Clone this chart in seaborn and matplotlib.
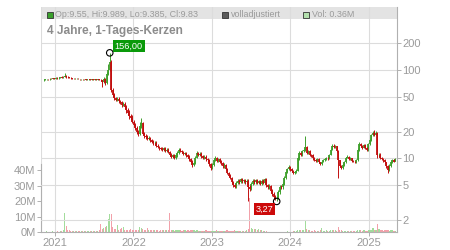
import numpy as np
import pandas as pd
import matplotlib
matplotlib.use("Agg")
import matplotlib.pyplot as plt
import matplotlib.dates as mdates
from matplotlib.patches import Rectangle
import seaborn as sns

# ---------------- data (weekly candles) ----------------
week_start = "2020-11-09"
opens = [76.5, 77, 78, 79, 78, 80, 79, 81, 80, 82,
         81, 82, 83, 82, 84, 86, 84, 83, 82, 81,
         80, 80, 79, 80, 79, 78, 79, 78, 78, 77,
         78, 78, 77, 78, 77, 78, 77, 78, 77, 76,
         74, 80, 72, 90, 100, 122, 60, 52, 48, 46,
         47, 44, 43, 40, 41, 38, 35, 33, 30, 29,
         26, 24, 22, 20, 19, 23, 25, 19, 18, 17.5,
         16.5, 17, 16, 15.5, 14.8, 15, 14, 13.5, 13, 12.8,
         12.5, 13, 12.2, 12.6, 11.8, 11, 10.5, 10.8, 10.2, 10.8,
         11.5, 12.5, 12.2, 11.8, 11.2, 11.4, 10.8, 10.5, 9.8, 9.2,
         8.5, 8.8, 10.2, 11.5, 11, 11.3, 10.6, 10.2, 10.5, 9.8,
         9.5, 8.6, 7.8, 8.5, 9.6, 10.2, 9.4, 9.8, 9.2, 8.8,
         8.2, 8.5, 7.6, 6.8, 6.4, 6.0, 5.4, 5.0, 4.8, 5.3,
         5.6, 5.4, 5.8, 5.5, 5.7, 5.4, 5.6, 4.8, 4.5, 5.2,
         5.6, 5.4, 5.7, 5.3, 5.5, 5.2, 5.6, 5.3, 5.8, 5.0,
         4.7, 4.9, 4.3, 4.0, 3.7, 3.5, 3.6, 4.2, 4.8, 4.7,
         5.2, 6.0, 7.0, 7.6, 8.0, 7.5, 7.2, 6.8, 7.0, 7.3,
         10.0, 11.5, 11.0, 12.0, 12.5, 13.5, 11.5, 12.0, 11.0, 10.8,
         10.0, 9.6, 9.4, 9.8, 9.0, 8.7, 9.2, 9.5, 9.8, 10.2,
         10.0, 11.0, 12.5, 14.0, 13.5, 13.8, 12.0, 9.5, 8.2, 7.8,
         8.5, 9.0, 10.2, 10.4, 9.8, 10.0, 9.4, 9.2, 9.0, 9.6,
         12.5, 14.5, 14.0, 13.2, 14.2, 13.0, 12.5, 14.5, 16.0, 18.5,
         19.5, 18.5, 19.5, 10.8, 11.0, 10.2, 9.8, 9.5, 9.0, 8.2,
         7.4, 8.3, 9.0, 9.5, 9.2]
closes = [77, 78, 79, 78, 80, 79, 81, 80, 82, 81,
          82, 83, 82, 84, 86, 84, 83, 82, 81, 80,
          80, 79, 80, 79, 78, 79, 78, 78, 77, 78,
          78, 77, 78, 77, 78, 77, 78, 77, 76, 74,
          80, 72, 90, 100, 122, 60, 52, 48, 46, 47,
          44, 43, 40, 41, 38, 35, 33, 30, 29, 26,
          24, 22, 20, 19, 23, 25, 19, 18, 17.5, 16.5,
          17, 16, 15.5, 14.8, 15, 14, 13.5, 13, 12.8, 12.5,
          13, 12.2, 12.6, 11.8, 11, 10.5, 10.8, 10.2, 10.8, 11.5,
          12.5, 12.2, 11.8, 11.2, 11.4, 10.8, 10.5, 9.8, 9.2, 8.5,
          8.8, 10.2, 11.5, 11, 11.3, 10.6, 10.2, 10.5, 9.8, 9.5,
          8.6, 7.8, 8.5, 9.6, 10.2, 9.4, 9.8, 9.2, 8.8, 8.2,
          8.5, 7.6, 6.8, 6.4, 6.0, 5.4, 5.0, 4.8, 5.3, 5.6,
          5.4, 5.8, 5.5, 5.7, 5.4, 5.6, 4.8, 4.5, 5.2, 5.6,
          5.4, 5.7, 5.3, 5.5, 5.2, 5.6, 5.3, 5.8, 5.0, 4.7,
          4.9, 4.3, 4.0, 3.7, 3.5, 3.6, 4.2, 4.8, 4.7, 5.2,
          6.0, 7.0, 7.6, 8.0, 7.5, 7.2, 6.8, 7.0, 7.3, 10.0,
          11.5, 11.0, 12.0, 12.5, 13.5, 11.5, 12.0, 11.0, 10.8, 10.0,
          9.6, 9.4, 9.8, 9.0, 8.7, 9.2, 9.5, 9.8, 10.2, 10.0,
          11.0, 12.5, 14.0, 13.5, 13.8, 12.0, 9.5, 8.2, 7.8, 8.5,
          9.0, 10.2, 10.4, 9.8, 10.0, 9.4, 9.2, 9.0, 9.6, 12.5,
          14.5, 14.0, 13.2, 14.2, 13.0, 12.5, 14.5, 16.0, 18.5, 19.5,
          18.5, 19.5, 10.8, 11.0, 10.2, 9.8, 9.5, 9.0, 8.2, 7.4,
          8.3, 9.0, 9.5, 9.2, 9.83]
highs = [78, 79, 80, 80, 81, 81, 82, 82, 83, 83,
         83, 84, 85, 86, 92, 88, 86, 84, 83, 82,
         81, 81, 81, 81, 80, 80, 80, 79, 79, 79,
         79, 79, 79, 79, 79, 79, 79, 79, 78, 77,
         84, 82, 95, 118, 156, 128, 62, 55, 50, 49,
         49, 46, 45, 43, 43, 40, 37, 35, 32, 31,
         27, 25, 23, 21, 26, 29, 26, 20, 19, 18.5,
         17.8, 17.5, 16.5, 16, 15.6, 15.6, 14.6, 14, 13.6, 13.3,
         13.6, 13.5, 13.1, 13, 12.2, 11.4, 11.3, 11.2, 11.2, 12,
         13.2, 13.0, 12.6, 12.2, 11.9, 11.8, 11.2, 10.9, 10.2, 9.5,
         9.2, 10.6, 12.2, 11.9, 11.8, 11.7, 11.0, 10.9, 10.8, 10.1,
         9.8, 8.9, 8.8, 9.9, 10.6, 10.5, 10.1, 10.0, 9.5, 9.0,
         8.9, 8.7, 7.8, 7.0, 6.6, 6.2, 5.6, 5.2, 5.5, 5.9,
         5.8, 6.0, 6.0, 5.9, 5.9, 5.8, 5.8, 5.0, 5.4, 5.9,
         5.8, 5.9, 5.9, 5.7, 5.7, 5.8, 5.8, 6.0, 6.0, 5.2,
         5.1, 5.0, 4.5, 4.2, 3.9, 3.8, 4.4, 5.0, 5.0, 5.4,
         6.3, 7.3, 7.9, 8.4, 8.2, 7.8, 7.4, 7.2, 7.6, 10.5,
         12.0, 11.9, 12.4, 13.0, 18.0, 13.8, 12.4, 12.3, 11.3, 11.1,
         10.3, 9.9, 10.1, 10.0, 9.2, 9.4, 9.8, 10.1, 10.5, 10.5,
         11.3, 12.8, 14.6, 14.5, 14.3, 14.0, 12.3, 9.7, 8.5, 8.8,
         9.3, 10.5, 10.8, 10.6, 10.3, 10.2, 9.6, 9.4, 9.9, 13.0,
         15.2, 14.9, 14.3, 14.6, 14.5, 13.4, 14.8, 16.5, 19.0, 20.2,
         21.0, 20.3, 19.8, 11.6, 11.4, 10.5, 10.1, 9.8, 9.2, 8.4,
         8.6, 9.3, 9.9, 9.8, 9.989]
lows = [75.5, 76, 77, 77, 77, 78, 78, 79, 79, 80,
        80, 81, 81, 81, 83, 82, 82, 81, 80, 79,
        79, 78, 78, 78, 77, 77, 77, 77, 76, 76,
        77, 76, 76, 76, 76, 76, 76, 76, 75, 64,
        72, 68, 70, 88, 98, 56, 50, 46, 44, 45,
        42, 41, 38, 39, 36, 33, 31, 28, 27, 25,
        23, 21, 19, 18, 18.5, 22, 18.5, 17, 16.8, 16,
        16, 15.5, 15, 14.3, 14.3, 13.6, 13, 12.6, 12.3, 12,
        12.1, 11.8, 11.8, 11.4, 10.6, 10.1, 10.2, 9.8, 9.9, 10.5,
        11.2, 11.8, 11.4, 10.8, 10.9, 10.4, 10.1, 9.4, 8.8, 8.0,
        8.2, 8.6, 10.0, 10.6, 10.7, 10.2, 9.8, 9.9, 9.4, 9.1,
        8.3, 7.4, 7.6, 8.3, 9.3, 9.1, 9.1, 8.9, 8.5, 7.9,
        7.9, 7.4, 6.6, 6.2, 5.8, 5.2, 4.8, 4.6, 4.6, 5.1,
        5.2, 5.3, 5.3, 5.3, 5.2, 5.2, 3.3, 4.3, 4.4, 5.0,
        5.2, 5.2, 5.1, 5.1, 5.0, 5.0, 5.1, 5.1, 4.8, 4.5,
        4.5, 4.1, 3.8, 3.5, 3.35, 3.27, 3.5, 4.0, 4.5, 4.5,
        5.0, 5.8, 6.8, 7.4, 7.3, 7.0, 6.6, 6.6, 6.8, 7.2,
        9.6, 10.6, 10.7, 11.7, 12.2, 11.2, 11.2, 10.7, 10.4, 9.7,
        9.3, 9.1, 9.2, 8.8, 8.4, 8.5, 9.0, 9.3, 9.6, 9.7,
        9.8, 10.8, 12.3, 13.1, 13.2, 11.7, 6.0, 8.0, 7.5, 7.6,
        8.3, 8.8, 10.0, 9.6, 9.6, 9.2, 9.0, 8.8, 8.8, 9.4,
        12.2, 13.6, 12.9, 13.0, 12.7, 12.1, 12.2, 14.2, 15.7, 18.1,
        18.0, 18.2, 10.0, 10.4, 9.9, 9.5, 9.2, 8.7, 7.9, 6.8,
        7.2, 8.0, 8.8, 9.0, 9.385]
volumes_m = [0.3, 0.2, 0.4, 0.3, 0.2, 0.3, 0.5, 0.3, 0.2, 0.4,
             0.3, 0.4, 0.6, 1.0, 12.5, 4.0, 1.5, 1.2, 0.9, 0.8,
             0.7, 0.8, 0.6, 0.7, 0.9, 0.6, 0.5, 0.7, 0.6, 0.5,
             0.4, 0.5, 0.6, 0.5, 0.4, 0.6, 0.8, 1.0, 5.0, 1.8,
             2.5, 3.0, 4.0, 8.5, 11.5, 12.0, 3.0, 2.2, 1.8, 4.5,
             1.5, 1.8, 2.5, 3.0, 1.4, 1.6, 1.5, 1.2, 1.8, 1.3,
             1.5, 1.2, 1.6, 1.4, 3.5, 2.8, 1.8, 1.2, 1.4, 2.5,
             1.3, 1.2, 1.0, 1.5, 1.1, 1.0, 1.2, 0.9, 1.4, 1.0,
             1.1, 1.3, 1.0, 1.2, 12.5, 1.5, 1.0, 0.9, 1.3, 1.1,
             1.2, 1.0, 0.9, 1.1, 1.0, 0.8, 1.2, 0.9, 1.0, 1.3,
             1.0, 0.9, 1.1, 0.8, 0.7, 0.9, 0.8, 0.7, 1.0, 0.8,
             0.9, 0.8, 0.7, 0.9, 0.8, 1.0, 0.7, 0.8, 0.9, 0.7,
             0.8, 0.9, 1.0, 0.8, 0.9, 0.7, 0.8, 1.0, 0.9, 0.8,
             0.7, 0.8, 0.9, 0.7, 0.8, 1.0, 2.0, 22.0, 2.5, 2.0,
             1.8, 2.2, 1.5, 1.8, 1.2, 1.0, 0.8, 0.5, 0.4, 0.3,
             0.3, 0.2, 0.3, 0.2, 0.3, 0.2, 0.3, 0.2, 0.3, 0.2,
             0.3, 0.2, 0.4, 0.3, 0.2, 0.3, 0.4, 0.5, 0.8, 1.0,
             1.2, 1.0, 1.5, 1.2, 7.5, 1.8, 1.2, 1.0, 0.9, 0.8,
             1.0, 0.8, 0.9, 0.7, 1.0, 2.5, 0.8, 0.9, 1.0, 0.8,
             0.9, 1.0, 1.2, 1.0, 1.1, 0.9, 3.5, 1.5, 1.0, 0.8,
             0.9, 0.7, 0.8, 0.9, 0.7, 0.8, 0.6, 0.8, 0.9, 1.5,
             1.2, 1.0, 0.9, 1.1, 0.8, 0.9, 1.0, 1.2, 1.5, 2.5,
             1.5, 1.2, 5.0, 1.8, 1.2, 1.0, 0.9, 1.1, 1.3, 1.0,
             0.9, 1.2, 1.0, 0.8, 0.36]

price_ticks = [2, 5, 10, 20, 50, 100, 200]
price_tick_labels = ["2", "5", "10", "20", "50", "100", "200"]
vol_ticks_m = [0, 10, 20, 30, 40]
vol_tick_labels = ["0M", "10M", "20M", "30M", "40M"]
year_ticks = ["2021-01-01", "2022-01-01", "2023-01-01", "2024-01-01", "2025-01-01"]
year_labels = ["2021", "2022", "2023", "2024", "2025"]
max_label, min_label = "156,00", "3,27"
title = "4 Jahre, 1-Tages-Kerzen"
legend_ohlc = "Op:9.55, Hi:9.989, Lo:9.385, Cl:9.83"
legend_adj = "volladjustiert"
legend_vol = "Vol: 0.36M"

# ---------------- style ----------------
sns.set_style("white")
plt.rcParams["font.family"] = ["Liberation Sans", "DejaVu Sans"]

UP, DOWN = "#3fa02c", "#c20f0f"
VUP, VDOWN = "#a3dc9c", "#f2a1aa"
GRID = "#dcdcdc"
TXT = "#9a9a9a"

df = pd.DataFrame({
    "date": pd.date_range(week_start, periods=len(closes), freq="7D"),
    "open": opens, "high": highs, "low": lows, "close": closes,
    "vol": np.array(volumes_m) * 1e6,
})
df["x"] = mdates.date2num(df["date"])
df["up"] = df["close"] >= df["open"]

W, H = 450, 250
fig = plt.figure(figsize=(W / 100, H / 100), dpi=100)
L, R, T, B = 41, 397, 7, 232
ax = fig.add_axes([L / W, 1 - B / H, (R - L) / W, (B - T) / H])
ax2 = ax.twinx()

# volume
ax.bar(df["x"], df["vol"], width=5.5, color=np.where(df["up"], VUP, VDOWN),
       linewidth=0, zorder=2)
ax.set_ylim(0, 146e6)
ax.set_yticks([v * 1e6 for v in vol_ticks_m])
ax.set_yticklabels(vol_tick_labels)

x0 = mdates.date2num(pd.Timestamp("2020-10-28"))
x1 = mdates.date2num(pd.Timestamp("2025-05-12"))
ax.set_xlim(x0, x1)
ax.set_xticks(mdates.date2num(pd.to_datetime(year_ticks)))
ax.set_xticklabels(year_labels)
ax.set_axisbelow(True)
ax.grid(axis="x", color=GRID, lw=0.8)
ax.grid(axis="y", visible=False)

# header band
ax.add_patch(Rectangle((0, 1 - 12 / 225), 1, 12 / 225, transform=ax.transAxes,
                       fc="#e3e3e3", ec="none", zorder=0.1))

# price candles
ax2.set_yscale("log")
lo_lim = 10 ** (np.log10(200) - (B - 43.3) / 88.5)
hi_lim = 10 ** (np.log10(200) + (43.3 - T) / 88.5)
ax2.set_ylim(lo_lim, hi_lim)
ax2.set_xlim(x0, x1)
for up, col in [(True, UP), (False, DOWN)]:
    d = df[df["up"] == up]
    ax2.vlines(d["x"], d["low"], d["high"], color=col, lw=0.7, zorder=3)
    ax2.vlines(d["x"], d[["open", "close"]].min(axis=1),
               d[["open", "close"]].max(axis=1), color=col, lw=1.3, zorder=3)

ax2.set_yticks(price_ticks)
ax2.set_yticklabels(price_tick_labels)
ax2.yaxis.set_minor_locator(matplotlib.ticker.NullLocator())
for p in price_ticks:
    ax2.axhline(p, color=GRID, lw=0.8, zorder=0.5)

# extremes
imax = int(df["high"].idxmax())
imin = int(df["low"].idxmin())
ext = pd.DataFrame({"x": [df.loc[imax, "x"], df.loc[imin, "x"]],
                    "y": [df.loc[imax, "high"], df.loc[imin, "low"]]})
sns.scatterplot(data=ext, x="x", y="y", ax=ax2, marker="o", s=22,
                facecolor="none", edgecolor="black", linewidth=0.8, zorder=5,
                legend=False)
ax2.annotate(max_label, xy=(ext.x[0], ext.y[0]), xytext=(3.6, 1.8),
             textcoords="offset points", ha="left", va="bottom", color="white",
             fontsize=6.6, zorder=6,
             bbox=dict(boxstyle="square,pad=0.18", fc="#0a9a0a", ec="none"))
ax2.annotate(min_label, xy=(ext.x[1], ext.y[1]), xytext=(-2.6, -2.4),
             textcoords="offset points", ha="right", va="top", color="white",
             fontsize=6.6, zorder=6,
             bbox=dict(boxstyle="square,pad=0.18", fc="#cc0a0a", ec="none"))

# spines and ticks
for a in (ax, ax2):
    for s in a.spines.values():
        s.set_visible(False)
ax2.spines["right"].set_visible(True)
ax2.spines["right"].set_color("#b0b0b0")
ax.spines["bottom"].set_visible(True)
ax.spines["bottom"].set_color("#b0b0b0")
ax.spines["left"].set_visible(True)
ax.spines["left"].set_color("#b0b0b0")
ax.spines["left"].set_bounds(0, 44e6)
ax.axvline(x0, color=GRID, lw=0.8, zorder=0.5)

ax.tick_params(axis="x", bottom=True, length=3, width=0.7, color="#b0b0b0",
               labelcolor=TXT, labelsize=8, pad=1)
ax.tick_params(axis="y", left=True, length=3, width=0.7, color="#b0b0b0",
               labelcolor=TXT, labelsize=8, pad=1)
ax2.tick_params(axis="y", right=True, length=3, width=0.7, color="#b0b0b0",
                labelcolor=TXT, labelsize=8, pad=1)
ax.set_xlabel("")
ax.set_ylabel("")
ax2.set_xlabel("")
ax2.set_ylabel("")

# header legend & title
def fx(x):
    return x / W

def fy(y):
    return 1 - y / H

for (sx, fc, ec), (tx, label) in zip(
        [(47, "#3aa02c", "#333333"), (222, "#5a5a5a", "#333333"), (303, "#b3e0ad", "#333333")],
        [(55, legend_ohlc), (231, legend_adj), (312, legend_vol)]):
    fig.add_artist(Rectangle((fx(sx), fy(17.5)), 5.5 / W, 5.5 / H, transform=fig.transFigure,
                             fc=fc, ec=ec, lw=0.6))
    fig.text(fx(tx), fy(14.5), label, color=TXT, fontsize=6.4, va="center", ha="left")

fig.text(fx(47), fy(34), title, color="#8c8c8c", fontsize=8.6, fontweight="bold",
         va="baseline", ha="left")

fig.savefig("out.png", dpi=100)
